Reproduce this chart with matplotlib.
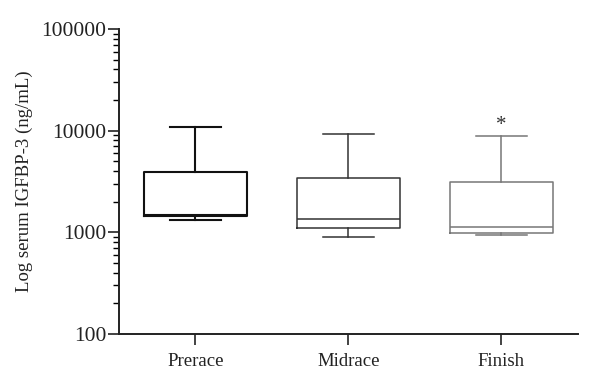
import matplotlib

matplotlib.use("Agg")
import matplotlib.pyplot as plt
from matplotlib.ticker import LogLocator, NullFormatter, FixedLocator, FixedFormatter

# box statistics (ng/mL)
labels = ["Prerace", "Midrace", "Finish"]
whislo = [1310, 900, 950]
q1 = [1450, 1090, 985]
med = [1480, 1350, 1130]
q3 = [3880, 3390, 3140]
whishi = [10900, 9200, 8900]
colors = ["#111111", "#333333", "#777777"]
widths = [1.5, 1.1, 1.1]
ytick_vals = [100, 1000, 10000, 100000]
ytick_labels = ["100", "1000", "10000", "100000"]

plt.rcParams["font.family"] = ["Liberation Serif", "DejaVu Serif"]

fig = plt.figure(figsize=(6.0, 3.86), dpi=100)
ax = fig.add_axes([0.198, 0.135, 0.765, 0.79])

for i, lab in enumerate(labels):
    stats = [dict(label=lab, whislo=whislo[i], q1=q1[i], med=med[i],
                  q3=q3[i], whishi=whishi[i], fliers=[])]
    lp = dict(color=colors[i], linewidth=widths[i])
    ax.bxp(stats, positions=[i + 1], widths=0.67, showfliers=False,
           boxprops=lp, whiskerprops=lp, capprops=lp, medianprops=lp,
           capwidths=0.33)

# significance marker above the Finish whisker
ax.text(3, whishi[2] * 1.02, "*", ha="center", va="bottom", fontsize=15,
        color="#333333")

ax.set_yscale("log")
ax.set_ylim(100, 100000)
ax.set_xlim(0.5, 3.5)
ax.yaxis.set_major_locator(FixedLocator(ytick_vals))
ax.yaxis.set_major_formatter(FixedFormatter(ytick_labels))
ax.yaxis.set_minor_locator(LogLocator(base=10, subs=range(2, 10)))
ax.yaxis.set_minor_formatter(NullFormatter())
ax.set_xticks([1, 2, 3])
ax.set_xticklabels(labels)

ax.tick_params(axis="both", which="major", direction="out", length=8,
               width=1.2, labelsize=13.5, colors="#222222")
ax.tick_params(axis="y", which="major", labelsize=15.5, pad=1)
ax.tick_params(axis="y", which="minor", direction="out", length=4, width=1)
ax.tick_params(axis="x", pad=6)

for side in ("top", "right"):
    ax.spines[side].set_visible(False)
for side in ("left", "bottom"):
    ax.spines[side].set_linewidth(1.4)
    ax.spines[side].set_color("#222222")

ax.set_ylabel("Log serum IGFBP-3 (ng/mL)", fontsize=13.5, color="#222222",
              labelpad=6)

fig.savefig("out.png", dpi=100)
